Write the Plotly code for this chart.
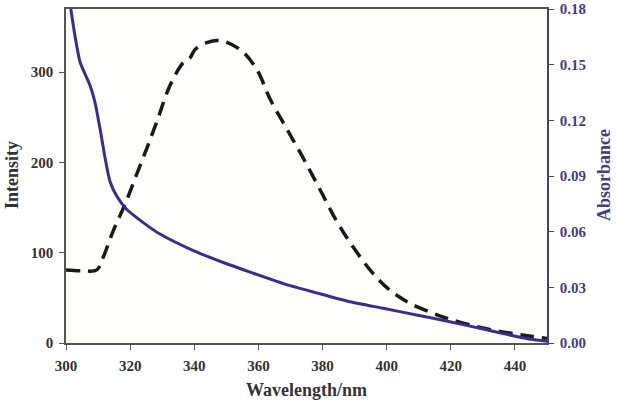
import plotly.graph_objects as go

# Fluorescence intensity (dashed, left axis)
wl_int = [300, 305, 309.6, 311.6, 314.7, 318.4, 322, 325.2, 328.3, 332.4, 336.6, 338.7,
          340.2, 343.9, 348, 354.3, 359.5, 363.6, 368.8, 374, 379.2, 384.4, 389.6,
          395.8, 401, 407.3, 414.5, 419.7, 428, 435.3, 440.5, 445, 450]
intensity = [81, 80, 81, 95, 124, 153.6, 186.5, 215.7, 245, 285, 310.8, 316,
             325, 332.7, 335, 325, 303, 270.5, 237.6, 204.7, 170, 135, 106,
             76.8, 58.5, 43.9, 32.9, 26.3, 18.2, 12.7, 9.9, 7.5, 5]

# Absorbance (solid, right axis)
wl_abs = [301.5, 302.8, 304.4, 307.5, 309, 310.6, 312.2, 313.7, 315.8, 318.9, 324.1,
          329.3, 339.7, 350.1, 357.4, 367.8, 378.2, 388.6, 398.9, 409.3, 419.7,
          430.1, 440.5, 445, 450]
absorbance = [0.18, 0.1655, 0.1513, 0.1388, 0.130, 0.1156, 0.0996, 0.0872, 0.0792,
              0.0721, 0.0649, 0.0587, 0.0498, 0.0427, 0.0382, 0.032, 0.027, 0.0222,
              0.0187, 0.0151, 0.0115, 0.0075, 0.0035, 0.002, 0.001]

x_ticks = [300, 320, 340, 360, 380, 400, 420, 440]
y_ticks = [0, 100, 200, 300]
y2_ticks = [0.00, 0.03, 0.06, 0.09, 0.12, 0.15, 0.18]

purple = "#4a3a86"
line_purple = "#3b2d8c"
dark = "#333333"
font_family = "Liberation Serif"

W, H = 617, 408
ML, MR, MT, MB = 66, 70, 9, 65

fig = go.Figure()
fig.add_trace(go.Scatter(x=wl_abs, y=absorbance, mode="lines", yaxis="y2",
                         line=dict(color=line_purple, width=3, shape="spline", smoothing=0.6),
                         showlegend=False))
fig.add_trace(go.Scatter(x=wl_int, y=intensity, mode="lines",
                         line=dict(color="#1a1a1a", width=3.5, dash="14px,8px", shape="spline"),
                         showlegend=False))

tick_font = dict(family=font_family, size=15, color=dark, weight="bold")
pw, ph = W - ML - MR, H - MT - MB

def px_x(x):
    return (x - ML) / pw

def px_y(y):
    return (H - MB - y) / ph

fig.update_layout(
    width=W, height=H,
    margin=dict(l=ML, r=MR, t=MT, b=MB),
    paper_bgcolor="white",
    plot_bgcolor="#fdfdf9",
    font=dict(family=font_family, color=dark, size=15),
    xaxis=dict(range=[300, 450], tickvals=x_ticks, ticks="outside", ticklen=5,
               tickcolor="#555", showline=True, linecolor="#555", linewidth=1.5,
               mirror=True, showgrid=False, zeroline=False, automargin=False,
               ticklabelstandoff=3, tickfont=tick_font),
    yaxis=dict(range=[0, 370], tickvals=y_ticks, ticks="outside", ticklen=5,
               tickcolor="#555", showline=True, linecolor="#555", linewidth=1.5,
               showgrid=False, zeroline=False, automargin=False,
               ticklabelstandoff=3, tickfont=tick_font),
    yaxis2=dict(range=[0, 0.18001], tickvals=y2_ticks, tickformat=".2f", overlaying="y",
                side="right", ticks="outside", ticklen=5, tickcolor=purple,
                showline=True, linecolor=purple, linewidth=1.5,
                showgrid=False, zeroline=False, automargin=False,
                ticklabeloverflow="allow", ticklabelstandoff=3,
                tickfont=dict(family=font_family, size=15, color=purple, weight="bold")),
    annotations=[
        dict(text="Wavelength/nm", x=0.5, y=px_y(390), xref="paper", yref="paper",
             showarrow=False, font=dict(family=font_family, size=18, color=dark, weight="bold"),
             yanchor="middle", xanchor="center"),
        dict(text="Intensity", x=px_x(12), y=px_y(175), xref="paper", yref="paper", textangle=-90,
             showarrow=False, font=dict(family=font_family, size=18, color=dark, weight="bold"),
             xanchor="center", yanchor="middle"),
        dict(text="Absorbance", x=px_x(604), y=px_y(175), xref="paper", yref="paper", textangle=-90,
             showarrow=False, font=dict(family=font_family, size=18, color=purple, weight="bold"),
             xanchor="center", yanchor="middle"),
    ],
)

fig.write_html("out.html", config={"displayModeBar": False})

# remove the default page margin so the figure sits at the window's top-left corner
with open("out.html", "r", encoding="utf-8") as f:
    html = f.read()
html = html.replace("<head>", "<head><style>html,body{margin:0;padding:0;}</style>", 1)
with open("out.html", "w", encoding="utf-8") as f:
    f.write(html)
